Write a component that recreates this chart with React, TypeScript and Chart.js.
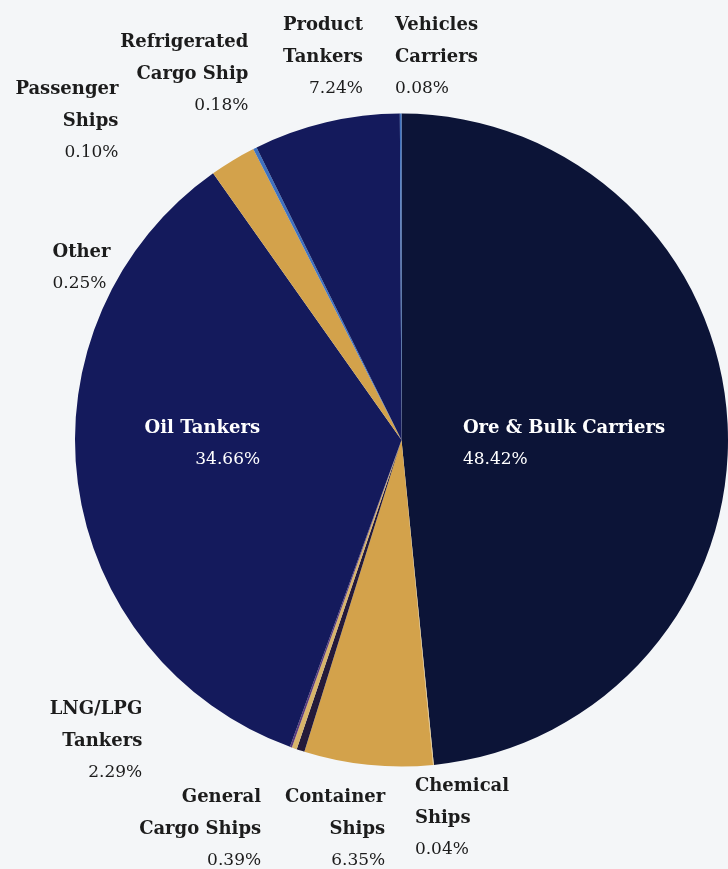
import React, { useEffect, useRef } from "react";
import { Chart, registerables } from "chart.js";

Chart.register(...registerables);

// ---- data ----
const categories = [
  "Ore & Bulk Carriers",
  "Chemical Ships",
  "Container Ships",
  "General Cargo Ships",
  "Other",
  "Passenger Ships",
  "Oil Tankers",
  "LNG/LPG Tankers",
  "Refrigerated Cargo Ship",
  "Product Tankers",
  "Vehicles Carriers",
];
const shares = [48.42, 0.04, 6.35, 0.39, 0.25, 0.1, 34.66, 2.29, 0.18, 7.24, 0.08];
const labelLines = [
  ["Ore & Bulk Carriers"],
  ["Chemical", "Ships"],
  ["Container", "Ships"],
  ["General", "Cargo Ships"],
  ["Other"],
  ["Passenger", "Ships"],
  ["Oil Tankers"],
  ["LNG/LPG", "Tankers"],
  ["Refrigerated", "Cargo Ship"],
  ["Product", "Tankers"],
  ["Vehicles", "Carriers"],
];

// ---- styles ----
const sliceColors = [
  "#0c1437",
  "#e6c98a",
  "#d3a24b",
  "#241a3a",
  "#d8b46a",
  "#5a3a7a",
  "#141a5c",
  "#d3a24b",
  "#3f72c0",
  "#141a5c",
  "#3f72c0",
];
// label layout relative to pie centre, in units of radius; align; inside (white)
const labelLayout: { fx: number; fy: number; align: CanvasTextAlign; inside: boolean }[] = [
  { fx: 0.188, fy: -0.037, align: "left", inside: true },
  { fx: 0.041, fy: 1.061, align: "left", inside: false },
  { fx: -0.05, fy: 1.095, align: "right", inside: false },
  { fx: -0.43, fy: 1.095, align: "right", inside: false },
  { fx: -1.069, fy: -0.575, align: "left", inside: false },
  { fx: -0.867, fy: -1.073, align: "right", inside: false },
  { fx: -0.433, fy: -0.037, align: "right", inside: true },
  { fx: -0.794, fy: 0.826, align: "right", inside: false },
  { fx: -0.469, fy: -1.217, align: "right", inside: false },
  { fx: -0.118, fy: -1.269, align: "right", inside: false },
  { fx: -0.02, fy: -1.269, align: "left", inside: false },
];

const FONT = "'DejaVu Serif', Georgia, serif";
const LINE_H = 31.5;

const labelPlugin = {
  id: "pieLabels",
  afterDraw(chart: any) {
    const meta = chart.getDatasetMeta(0);
    const arc = meta.data[0];
    if (!arc) return;
    const { x: cx, y: cy, outerRadius: r } = arc.getProps(["x", "y", "outerRadius"], true);
    const ctx: CanvasRenderingContext2D = chart.ctx;
    ctx.save();
    ctx.textBaseline = "middle";
    labelLayout.forEach((l, i) => {
      const x = cx + l.fx * r;
      let y = cy + l.fy * r;
      ctx.textAlign = l.align;
      ctx.fillStyle = l.inside ? "#ffffff" : "#1c1c1c";
      ctx.font = `bold 18px ${FONT}`;
      labelLines[i].forEach((t) => {
        ctx.fillText(t, x, y);
        y += LINE_H;
      });
      ctx.font = `17px ${FONT}`;
      ctx.fillText(shares[i].toFixed(2) + "%", x, y);
    });
    ctx.restore();
  },
};

export default function App() {
  const ref = useRef<HTMLCanvasElement>(null);
  useEffect(() => {
    document.body.style.margin = "0";
    document.body.style.background = "#f4f6f8";
    const chart = new Chart(ref.current!, {
      type: "pie",
      data: {
        labels: categories,
        datasets: [
          {
            data: shares,
            backgroundColor: sliceColors,
            borderWidth: 0,
          },
        ],
      },
      options: {
        responsive: false,
        animation: false,
        layout: { padding: { top: 113, bottom: 102, left: 75, right: 0 } },
        plugins: {
          legend: { display: false },
          tooltip: { enabled: false },
        },
      },
      plugins: [labelPlugin],
    });
    return () => chart.destroy();
  }, []);
  return (
    <div style={{ width: 728, height: 869, background: "#f4f6f8", overflow: "hidden" }}>
      <canvas ref={ref} width={728} height={869} />
    </div>
  );
}
